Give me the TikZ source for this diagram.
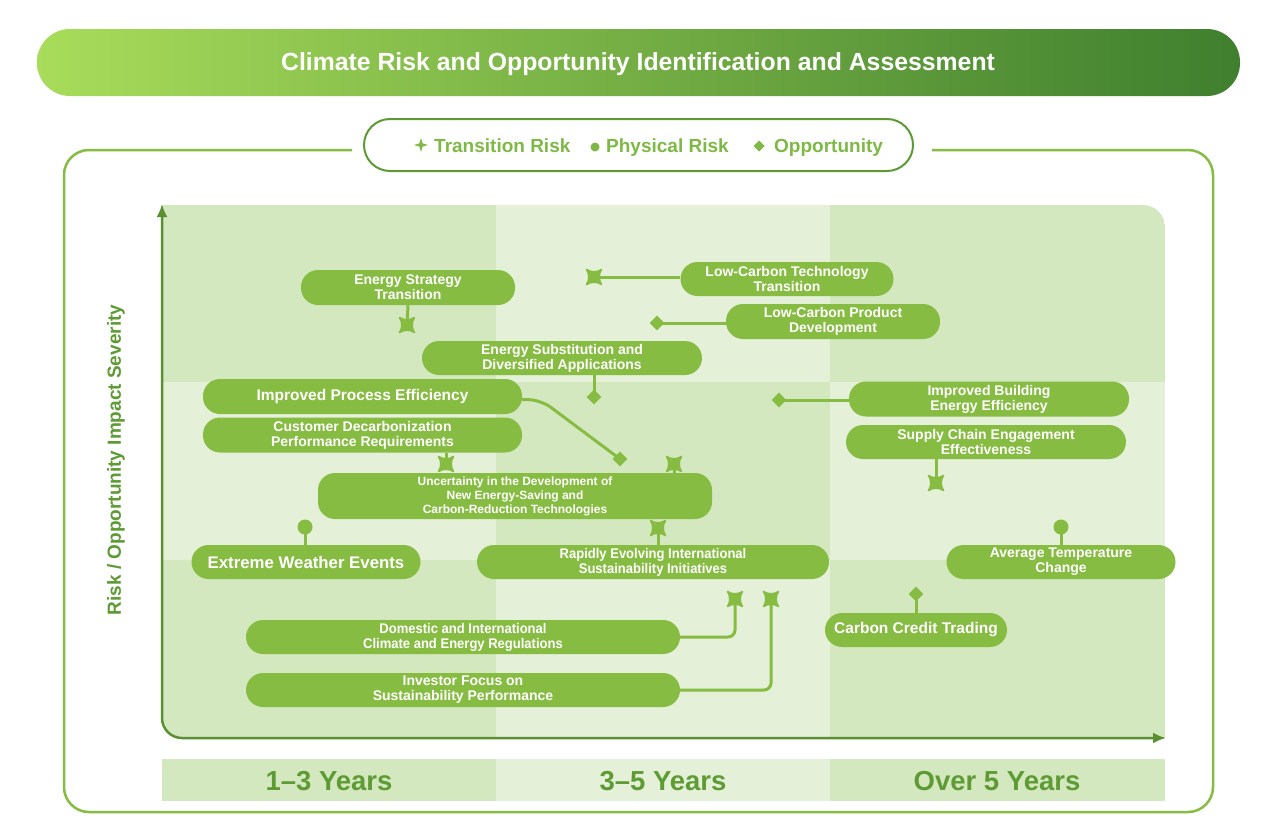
\documentclass[tikz,border=0pt]{standalone}
\usepackage{fontspec}
\setmainfont{Liberation Sans}
\newfontfamily\narrowfont{Liberation Sans}[FakeStretch=0.93]
\usetikzlibrary{shapes.geometric, arrows.meta}
\definecolor{ngreen}{HTML}{87BC43}
\definecolor{qdark}{HTML}{D4E8BF}
\definecolor{qlight}{HTML}{E4F0D8}
\definecolor{tleft}{HTML}{A8DC5A}
\definecolor{tright}{HTML}{3F7F2E}
\definecolor{lgtext}{HTML}{7DB944}
\definecolor{lgborder}{HTML}{5C9A35}
\definecolor{axisc}{HTML}{5A9032}
\definecolor{yeartext}{HTML}{5E9B34}
\tikzset{
  pill/.style={fill=ngreen, text=white, rounded corners=17pt, minimum height=34pt, inner sep=0pt, align=center, font=\bfseries\fontsize{14}{15}\selectfont},
  bigtext/.style={font=\bfseries\fontsize{15.5}{17}\selectfont},
  hugetext/.style={font=\bfseries\fontsize{16.8}{18}\selectfont},
  smalltext/.style={font=\bfseries\fontsize{12}{14}\selectfont},
  narrowtext/.style={font=\narrowfont\bfseries\fontsize{14}{15}\selectfont},
  conn/.style={draw=ngreen, line width=3pt},
  dmark/.style={diamond, fill=ngreen, minimum size=15pt, inner sep=0pt},
  cmark/.style={circle, fill=ngreen, minimum size=15pt, inner sep=0pt},
  tstar/.pic={\filldraw[ngreen, line width=1.5pt, line join=round] (-7.5,-7.5) .. controls (-3,-4.5) and (3,-4.5) .. (7.5,-7.5) .. controls (4.5,-3) and (4.5,3) .. (7.5,7.5) .. controls (3,4.5) and (-3,4.5) .. (-7.5,7.5) .. controls (-4.5,3) and (-4.5,-3) .. cycle;},
  yearlabel/.style={text=yeartext, font=\bfseries\fontsize{27.5}{30}\selectfont},
  legtext/.style={anchor=base west, inner sep=0pt, text=lgtext, font=\bfseries\fontsize{19}{21}\selectfont}
}
\begin{document}
\begin{tikzpicture}[x=1pt,y=-1pt]
\useasboundingbox (0,0) rectangle (1277,835);
\fill[white] (0,0) rectangle (1277,835);

% title bar
\shade[left color=tleft, right color=tright, rounded corners=33pt] (37,29) rectangle (1240,96);
\node[text=white, font=\bfseries\fontsize{24.8}{27}\selectfont] (title) at (638,64) {Climate Risk and Opportunity Identification and Assessment};

% outer frame
\draw[ngreen, line width=2.5pt, rounded corners=25pt] (352,150) -- (64,150) -- (64,812) -- (1213,812) -- (1213,150) -- (932,150);

% legend
\node[draw=lgborder, line width=2pt, fill=white, rounded corners=26pt, minimum width=549pt, minimum height=52pt, inner sep=0pt] (legend) at (638.5,145) {};
\fill[lgtext] (421,138) -- (422.6,143.4) -- (428,145) -- (422.6,146.6) -- (421,152) -- (419.4,146.6) -- (414,145) -- (419.4,143.4) -- cycle;
\node[legtext] (lt1) at (434,152) {Transition Risk};
\fill[lgtext] (595,147) circle[radius=4.5];
\node[legtext] (lt2) at (606,152) {Physical Risk};
\fill[lgtext] (759,140.5) -- (764.5,146) -- (759,151.5) -- (753.5,146) -- cycle;
\node[legtext] (lt3) at (774,152) {Opportunity};

% grid
\begin{scope}
\clip (162,205) -- (1143,205) .. controls (1155.1,205) and (1165,214.9) .. (1165,227) -- (1165,738) -- (182,738) .. controls (171,738) and (162,729) .. (162,718) -- cycle;
\fill[qdark]  (162,205) rectangle (496,382);
\fill[qlight] (496,205) rectangle (830,382);
\fill[qdark]  (830,205) rectangle (1165,382);
\fill[qlight] (162,382) rectangle (496,560);
\fill[qdark]  (496,382) rectangle (830,560);
\fill[qlight] (830,382) rectangle (1165,560);
\fill[qdark]  (162,560) rectangle (496,738);
\fill[qlight] (496,560) rectangle (830,738);
\fill[qdark]  (830,560) rectangle (1165,738);
\end{scope}

% axes
\draw[axisc, line width=2.5pt, rounded corners=20pt, {Latex[length=13pt,width=11pt]}-{Latex[length=13pt,width=11pt]}] (162,204) -- (162,738) -- (1166,738);
\node[rotate=90, text=yeartext, font=\bfseries\fontsize{19}{21}\selectfont] (ylabel) at (116,460) {Risk / Opportunity Impact Severity};

% year bands
\fill[qdark]  (162,759) rectangle (496,801);
\fill[qlight] (496,759) rectangle (830,801);
\fill[qdark]  (830,759) rectangle (1165,801);
\node[yearlabel] (y1) at (329,781) {1–3 Years};
\node[yearlabel] (y2) at (663,781) {3–5 Years};
\node[yearlabel] (y3) at (997,781) {Over 5 Years};

% nodes
\node[pill, minimum width=214pt, minimum height=35pt] (n1) at (408,287.5) {Energy Strategy\\Transition};
\node[pill, minimum width=213pt] (n2) at (787,279) {Low-Carbon Technology\\Transition};
\node[pill, minimum width=214pt, minimum height=35pt] (n3) at (833,321.5) {Low-Carbon Product\\Development};
\node[pill, minimum width=280pt] (n4) at (562,358) {Energy Substitution and\\Diversified Applications};
\node[pill, bigtext, minimum width=319pt, minimum height=35pt] (n5) at (362.5,396.5) {Improved Process Efficiency};
\node[pill, minimum width=319pt, minimum height=35pt] (n6) at (362.5,435) {Customer Decarbonization\\Performance Requirements};
\node[pill, smalltext, minimum width=394pt, minimum height=46pt] (n7) at (515,496) {Uncertainty in the Development of\\New Energy-Saving and\\Carbon-Reduction Technologies};
\node[pill, minimum width=280pt, minimum height=35pt] (n8) at (989,399) {Improved Building\\Energy Efficiency};
\node[pill, minimum width=280pt] (n9) at (986,442) {Supply Chain Engagement\\Effectiveness};
\node[pill, hugetext, minimum width=229pt] (n10) at (306,562) {Extreme Weather Events};
\node[pill, narrowtext, minimum width=352pt] (n11) at (653,562) {Rapidly Evolving International\\Sustainability Initiatives};
\node[pill, minimum width=229pt] (n12) at (1061,562) {Average Temperature\\Change};
\node[pill, bigtext, minimum width=182pt] (n13) at (916,630) {Carbon Credit Trading};
\node[pill, narrowtext, minimum width=434pt] (n14) at (463,637) {Domestic and International\\Climate and Energy Regulations};
\node[pill, minimum width=434pt] (n15) at (463,690) {Investor Focus on\\Sustainability Performance};

% marker positions
\coordinate (mA) at (407,325);
\coordinate (mB) at (594,277);
\node[dmark] (mC) at (657,323) {};
\node[dmark] (mD) at (594,397) {};
\node[dmark] (mE) at (620,459) {};
\coordinate (mF) at (446,464);
\coordinate (mG) at (674,464);
\node[dmark] (mH) at (779,400) {};
\coordinate (mI) at (936,483);
\node[cmark] (mJ) at (305,527) {};
\coordinate (mK) at (658,528);
\node[cmark] (mL) at (1061,527) {};
\node[dmark] (mM) at (916,594) {};
\coordinate (mN) at (735,599);
\coordinate (mO) at (771,599);

% connectors
\draw[conn] (n1.south) -- (mA);
\draw[conn] (mB -| n2.west) -- (mB);
\draw[conn] (mC.center -| n3.west) -- (mC.center);
\draw[conn] (mD |- n4.south) -- (mD.center);
\draw[conn, rounded corners=12pt] ([yshift=-3pt]n5.east) -- (541,400) -- (mE.center);
\draw[conn] (mF |- n6.south) -- (mF);
\draw[conn] (mG |- n7.north) -- (mG);
\draw[conn] (mH.center -| n8.west) -- (mH.center);
\draw[conn] (mI |- n9.south) -- (mI);
\draw[conn] (n10.north -| mJ) -- (mJ.center);
\draw[conn] (mK |- n11.north) -- (mK);
\draw[conn] (n12.north) -- (mL.center);
\draw[conn] (n13.north) -- (mM.center);
\draw[conn, rounded corners=7pt] (n14.east) -- (mN |- n14.east) -- (mN);
\draw[conn, rounded corners=7pt] (n15.east) -- (mO |- n15.east) -- (mO);

% transition risk markers
\pic at (mA) {tstar};
\pic at (mB) {tstar};
\pic at (mF) {tstar};
\pic at (mG) {tstar};
\pic at (mI) {tstar};
\pic at (mK) {tstar};
\pic at (mN) {tstar};
\pic at (mO) {tstar};
\end{tikzpicture}
\end{document}
